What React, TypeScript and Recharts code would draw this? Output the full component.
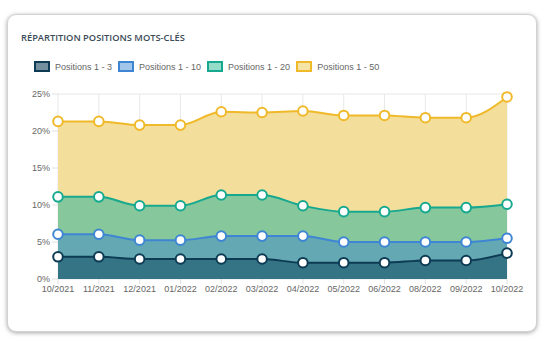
import { AreaChart, Area, XAxis, YAxis, CartesianGrid } from 'recharts'

const MONTHS = ['10/2021', '11/2021', '12/2021', '01/2022', '02/2022', '03/2022', '04/2022', '05/2022', '06/2022', '08/2022', '09/2022', '10/2022']
const TOP_50 = [21.3, 21.3, 20.8, 20.8, 22.6, 22.5, 22.7, 22.1, 22.1, 21.8, 21.8, 24.6]
const TOP_20 = [11.1, 11.1, 9.9, 9.9, 11.35, 11.35, 9.9, 9.1, 9.1, 9.65, 9.65, 10.1]
const TOP_10 = [6.05, 6.05, 5.25, 5.25, 5.8, 5.8, 5.8, 5.0, 5.0, 5.0, 5.0, 5.5]
const TOP_3 = [3.0, 3.0, 2.7, 2.7, 2.7, 2.7, 2.2, 2.2, 2.2, 2.5, 2.5, 3.5]
const Y_TICKS = [0, 5, 10, 15, 20, 25]

const SERIES = [
  { key: 'p50', label: 'Positions 1 - 50', stroke: '#f0b92a', fill: '#f4de9c', box: '#f6e3a6' },
  { key: 'p20', label: 'Positions 1 - 20', stroke: '#17a98f', fill: '#86c79b', box: '#95dcc9' },
  { key: 'p10', label: 'Positions 1 - 10', stroke: '#3e86d4', fill: '#63a8b2', box: '#a2c6ea' },
  { key: 'p3', label: 'Positions 1 - 3', stroke: '#0d3b54', fill: '#347485', box: '#74909f' },
]

const FONT = '"Liberation Sans", Arial, sans-serif'

export default function App() {
  const data = MONTHS.map((m, i) => ({ month: m, p50: TOP_50[i], p20: TOP_20[i], p10: TOP_10[i], p3: TOP_3[i] }))
  const legend = [...SERIES].reverse()

  return (
    <div style={{ position: 'absolute', left: 0, top: 0, width: 546, height: 344, background: '#fff', fontFamily: FONT }}>
      <div style={{
        position: 'absolute', left: 7, top: 14, width: 528, height: 316,
        border: '1px solid #d2d2d2', borderRadius: 9, boxShadow: '0 1px 4px rgba(0,0,0,0.35)', background: '#fff',
      }} />
      <div style={{
        position: 'absolute', left: 21, top: 31, fontFamily: '"Open Sans", sans-serif', fontWeight: 600,
        fontSize: 9.3, color: '#3c4a57', whiteSpace: 'nowrap',
      }}>RÉPARTITION POSITIONS MOTS-CLÉS</div>
      <div style={{ position: 'absolute', left: 34, top: 61, display: 'flex', alignItems: 'center', fontSize: 9, color: '#666' }}>
        {legend.map((s) => (
          <div key={s.key} style={{ display: 'flex', alignItems: 'center', marginRight: 6 }}>
            <span style={{ display: 'inline-block', width: 12, height: 7, background: s.box, border: `2px solid ${s.stroke}`, marginRight: 5 }} />
            <span>{s.label}</span>
          </div>
        ))}
      </div>
      <div style={{ position: 'absolute', left: 0, top: 0 }}>
        <AreaChart width={546} height={344} data={data} margin={{ top: 94, right: 39, bottom: 35, left: 0 }}>
          <CartesianGrid stroke="#e8e8e8" />
          <XAxis dataKey="month" height={30} axisLine={false} tickLine={{ stroke: '#e0e0e0' }} tickSize={5} tickMargin={2}
            tick={{ fontSize: 9, fill: '#666', fontFamily: FONT }} interval={0} />
          <YAxis width={58} domain={[0, 25]} ticks={Y_TICKS} axisLine={false} tickLine={{ stroke: '#e0e0e0' }} tickSize={6} tickMargin={2}
            tickFormatter={(v) => `${v}%`} tick={{ fontSize: 9, fill: '#666', fontFamily: FONT }} />
          {SERIES.map((s) => (
            <Area key={s.key} type="monotone" dataKey={s.key} stroke={s.stroke} strokeWidth={2} fill={s.fill} fillOpacity={1}
              dot={{ r: 4.8, fill: '#fff', stroke: s.stroke, strokeWidth: 2 }} activeDot={false} isAnimationActive={false} />
          ))}
        </AreaChart>
      </div>
    </div>
  )
}
